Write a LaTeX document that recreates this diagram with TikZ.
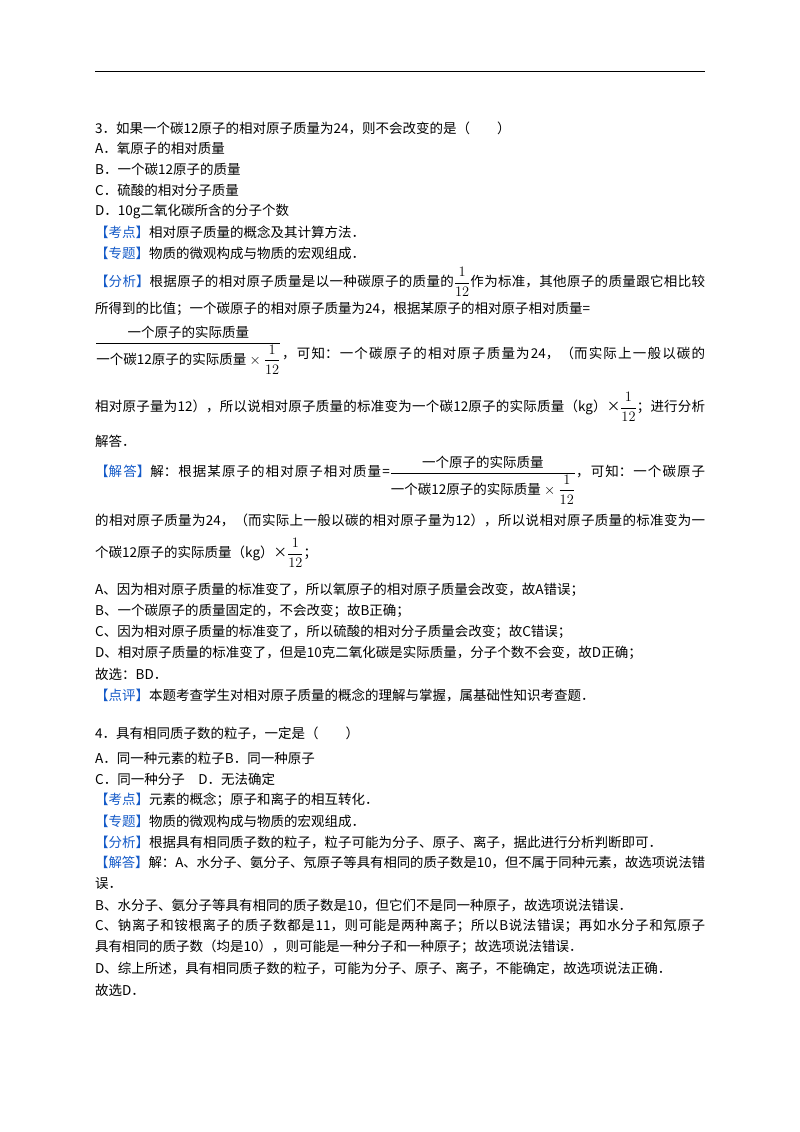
\documentclass[tikz,border=0pt]{standalone}
\usepackage{amsmath}
\usepackage{graphicx}
\usepackage{fontspec}
\setmainfont{Noto Sans CJK SC}
\XeTeXlinebreaklocale "zh"
\XeTeXlinebreakskip=0pt plus 2pt
\definecolor{kb}{RGB}{20,90,200}
\newcommand{\kk}[1]{\textcolor{kb}{【#1】}}
\newcommand{\full}[1]{\parbox{610pt}{\parfillskip=0pt\relax #1\par}}
\newcommand{\bigf}{$\dfrac{\text{一个原子的实际质量}}{\text{一个碳12原子的实际质量}\times\dfrac{1}{12}}$}
\begin{document}
\begin{tikzpicture}[x=1pt,y=-1pt,every node/.style={anchor=west,inner sep=0pt,font=\fontsize{13.5}{16}\selectfont}]
\useasboundingbox[fill=white] (0,0) rectangle (800,1132);
\draw[line width=1pt] (95,72) -- (705,72);
\node (q3) at (95,128) {3．如果一个碳12原子的相对原子质量为24，则不会改变的是（\quad\quad）};
\node (a) at (95,148) {A．氧原子的相对质量};
\node (b) at (95,169) {B．一个碳12原子的质量};
\node (c) at (95,190) {C．硫酸的相对分子质量};
\node (d) at (95,211) {D．10g二氧化碳所含的分子个数};
\node (kd) at (95,232) {\kk{考点}相对原子质量的概念及其计算方法．};
\node (zt) at (95,253) {\kk{专题}物质的微观构成与物质的宏观组成．};
\node (fx1) at (95,282) {\full{\kk{分析}根据原子的相对原子质量是以一种碳原子的质量的$\dfrac{1}{12}$作为标准，其他原子的质量跟它相比较}};
\node (fx2) at (95,309) {所得到的比值；一个碳原子的相对原子质量为24，根据某原子的相对原子相对质量=};
\node (ff) at (95,350) {\bigf};
\node (fx3) at (282,353) {\parbox{423pt}{\parfillskip=0pt\relax ，可知：一个碳原子的相对原子质量为24，（而实际上一般以碳的\par}};
\node (fx4) at (95,407) {\full{相对原子量为12），所以说相对原子质量的标准变为一个碳12原子的实际质量（kg）×$\dfrac{1}{12}$；进行分析}};
\node (fx5) at (95,441) {解答．};
\node (jd1) at (95,480) {\full{\kk{解答}解：根据某原子的相对原子相对质量=\bigf，可知：一个碳原子}};
\node (jd2) at (95,520) {\full{的相对原子质量为24，（而实际上一般以碳的相对原子量为12），所以说相对原子质量的标准变为一}};
\node (jd3) at (95,553) {个碳12原子的实际质量（kg）×$\dfrac{1}{12}$；};
\node (ja) at (95,590) {A、因为相对原子质量的标准变了，所以氧原子的相对原子质量会改变，故A错误；};
\node (jb) at (95,611) {B、一个碳原子的质量固定的，不会改变；故B正确；};
\node (jc) at (95,632) {C、因为相对原子质量的标准变了，所以硫酸的相对分子质量会改变；故C错误；};
\node (jdd) at (95,653) {D、相对原子质量的标准变了，但是10克二氧化碳是实际质量，分子个数不会变，故D正确；};
\node (gx) at (95,674) {故选：BD．};
\node (dp) at (95,695) {\kk{点评}本题考查学生对相对原子质量的概念的理解与掌握，属基础性知识考查题．};
\node (q4) at (95,733) {4．具有相同质子数的粒子，一定是（\quad\quad）};
\node (a4) at (95,758) {A．同一种元素的粒子B．同一种原子};
\node (c4) at (95,779) {C．同一种分子\quad D．无法确定};
\node (kd4) at (95,800) {\kk{考点}元素的概念；原子和离子的相互转化．};
\node (zt4) at (95,821) {\kk{专题}物质的微观构成与物质的宏观组成．};
\node (fx4b) at (95,842) {\kk{分析}根据具有相同质子数的粒子，粒子可能为分子、原子、离子，据此进行分析判断即可．};
\node (jd4) at (95,863) {\resizebox{610pt}{!}{\kk{解答}解：A、水分子、氨分子、氖原子等具有相同的质子数是10，但不属于同种元素，故选项说法错}};
\node (jd4b) at (95,884) {误．};
\node (jd4c) at (95,905) {B、水分子、氨分子等具有相同的质子数是10，但它们不是同一种原子，故选项说法错误．};
\node (jd4d) at (95,926) {\full{C、钠离子和铵根离子的质子数都是11，则可能是两种离子；所以B说法错误；再如水分子和氖原子}};
\node (jd4e) at (95,947) {具有相同的质子数（均是10），则可能是一种分子和一种原子；故选项说法错误．};
\node (jd4f) at (95,968) {D、综上所述，具有相同质子数的粒子，可能为分子、原子、离子，不能确定，故选项说法正确．};
\node (gx4) at (95,990) {故选D．};
\end{tikzpicture}
\end{document}
